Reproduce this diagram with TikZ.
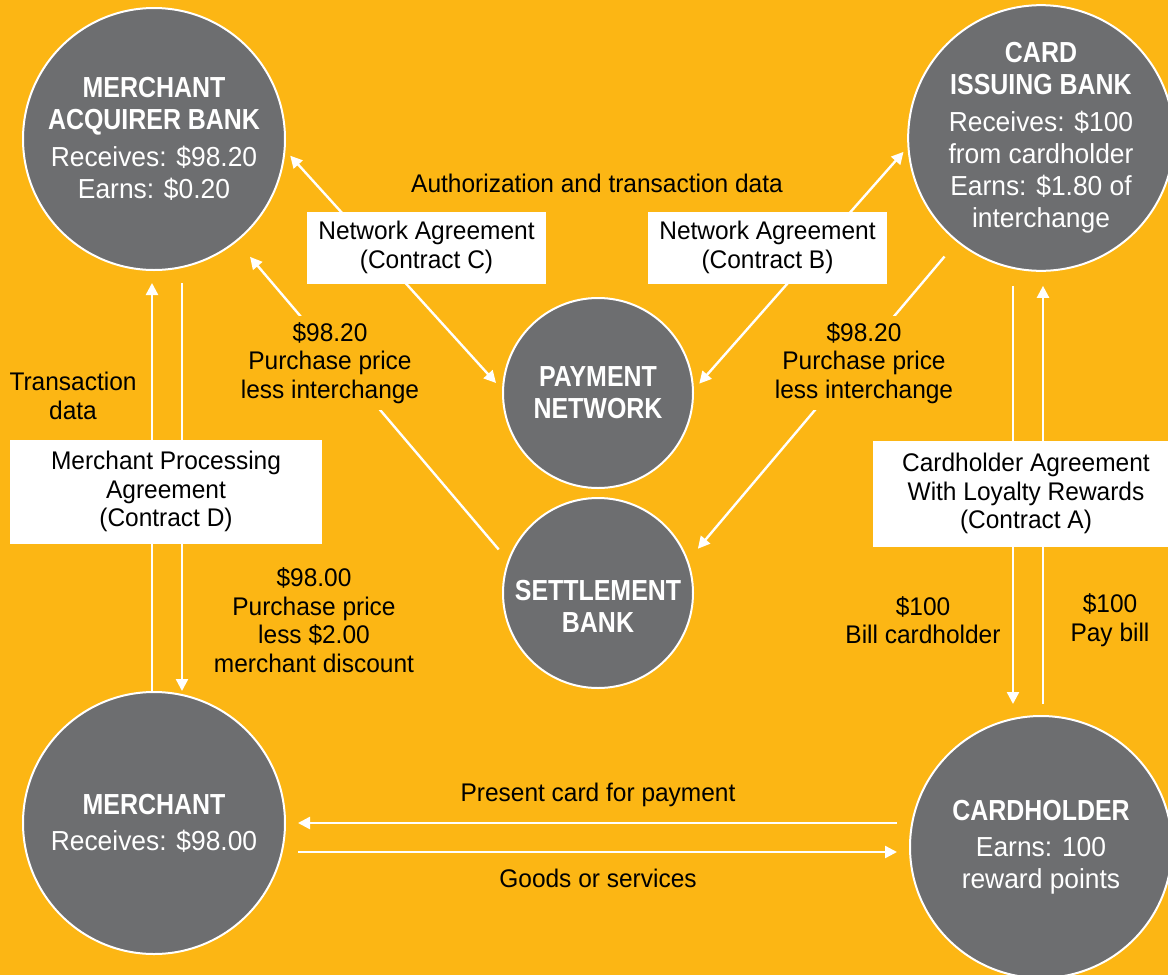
\documentclass[tikz,border=0pt]{standalone}
\usepackage{fontspec}
\setmainfont{Liberation Sans}[FakeStretch = 0.96]
\newfontfamily\headfont{Liberation Sans}[FakeStretch = 0.86]
\usepackage{tikz}
\usetikzlibrary{calc,positioning,arrows.meta,shapes}

\definecolor{bgorange}{RGB}{252,182,20}
\definecolor{discgray}{RGB}{109,110,112}

\newcommand{\head}[1]{{\headfont\bfseries\fontsize{29}{33}\selectfont #1}}

\tikzset{
  wedge/.tip = {Triangle[length = 12pt, width = 12pt]},
  party/.style = {circle, draw = white, line width = 2pt, fill = discgray, text = white,
    minimum size = 262pt, inner sep = 0pt, align = center, font = \fontsize{27.5}{32}\selectfont},
  hub/.style = {party, minimum size = 190pt},
  contract/.style = {fill = white, inner sep = 0pt, align = center, font = \fontsize{25.5}{28.5}\selectfont},
  note/.style = {align = center, inner sep = 2pt, font = \fontsize{25.5}{28.5}\selectfont},
  flow/.style = {draw = white, line width = 2.4pt, -wedge},
}

\begin{document}
\begin{tikzpicture}[x = 1pt, y = -1pt]
\useasboundingbox (0,0) rectangle (1168,975);
\fill[bgorange] (0,0) rectangle (1168,975);

% parties
\node[party] (acq) at (154,139) {\head{MERCHANT}\\\head{ACQUIRER BANK}\\[5pt]Receives: \$98.20\\Earns: \$0.20};
\node[party] (issuer) at (1041,138) {\head{CARD}\\\head{ISSUING BANK}\\[5pt]Receives: \$100\\from cardholder\\Earns: \$1.80 of\\interchange};
\node[party] (merch) at (154,823) {\head{MERCHANT}\\[4pt]Receives: \$98.00};
\node[party] (holder) at (1041,847) {\head{CARDHOLDER}\\[4pt]Earns: 100\\reward points};
\node[hub] (net) at (598,393) {\head{PAYMENT}\\\head{NETWORK}};
\node[hub] (settle) at (598,593) {\rule{0pt}{47pt}\head{SETTLEMENT}\\\head{BANK}};

% money and data flows
\draw[flow, wedge-wedge, shorten <= 7pt, shorten >= 9pt] (acq.-5) -- (net.178);
\draw[flow, wedge-wedge, shorten <= 8pt, shorten >= 6pt] (net.2) -- (issuer.-176);
\draw[flow, shorten <= 14pt, shorten >= 20pt] (settle.160) -- (acq.-51);
\draw[flow, shorten <= 19pt, shorten >= 15pt] (issuer.-129) -- (settle.20);
\draw[flow, shorten >= 12pt] ([xshift = -2pt]merch.north) -- ([xshift = -2pt]acq.south);
\draw[flow, shorten <= 12pt] ([xshift = 28pt]acq.south) -- ([xshift = 28pt]merch.north);
\draw[flow, shorten <= 14pt, shorten >= 11pt] ([xshift = -28pt]issuer.south) -- ([xshift = -28pt]holder.north);
\draw[flow, shorten <= 11pt, shorten >= 14pt] ([xshift = 2pt]holder.north) -- ([xshift = 2pt]issuer.south);
\draw[flow, shorten <= 12pt, shorten >= 12pt] (holder.west |- merch.east) -- (merch.east);
\draw[flow, shorten <= 12pt, shorten >= 12pt] ([yshift = -29pt]merch.east) -- ([yshift = -5pt]holder.west);

% contracts
\node[contract, minimum width = 239pt, minimum height = 72pt] (ctrC) at (426.5,247.5) {Network Agreement\\(Contract C)};
\node[contract, minimum width = 239pt, minimum height = 72pt] (ctrB) at (767.5,247.5) {Network Agreement\\(Contract B)};
\node[contract, minimum width = 312pt, minimum height = 104pt] (ctrD) at (166,491.5) {Merchant Processing\\Agreement\\(Contract D)};
\node[contract, minimum width = 306pt, minimum height = 106pt] (ctrA) at (1026,493.5) {Cardholder Agreement\\With Loyalty Rewards\\(Contract A)};

% labels
\node[note] (auth) at (597,183) {Authorization and transaction data};
\node[note, fill = bgorange, inner sep = 6pt] (feeAcq) at (330,363) {\$98.20\\Purchase price\\less interchange};
\node[note, fill = bgorange, inner sep = 6pt] (feeIss) at (864,363) {\$98.20\\Purchase price\\less interchange};
\node[note] (txdata) at (73,396) {Transaction\\data};
\node[note] (discount) at (314,620) {\$98.00\\Purchase price\\less \$2.00\\merchant discount};
\node[note] (bill) at (923,620) {\$100\\Bill cardholder};
\node[note] (pay) at (1110,620) {\$100\\Pay bill};
\node[note] (present) at (598,795) {Present card for payment};
\node[note] (goods) at (598,878) {Goods or services};
%\node[note] at (598,940) {};
\end{tikzpicture}
\end{document}
